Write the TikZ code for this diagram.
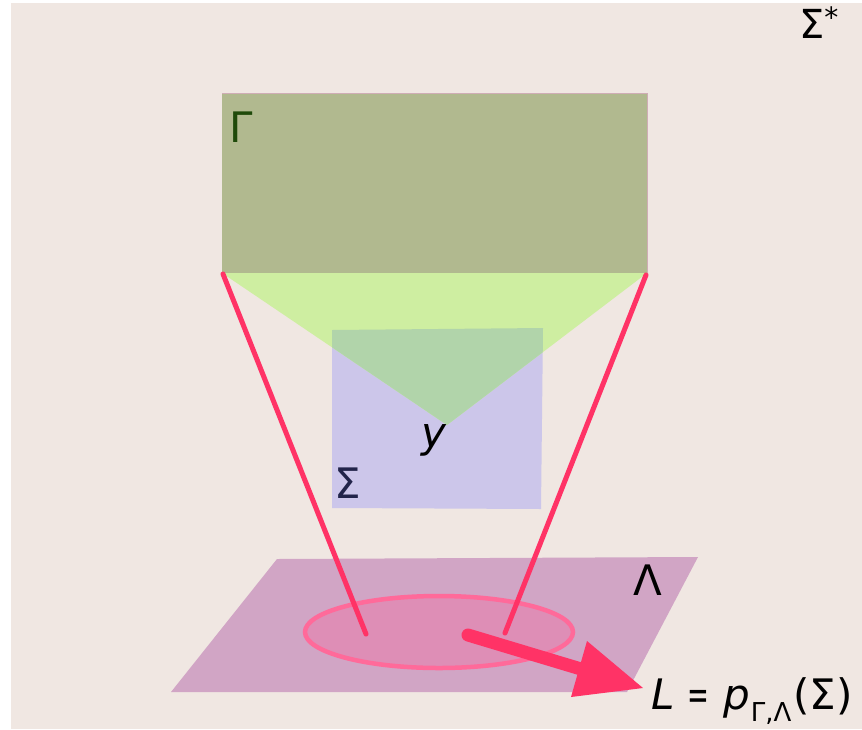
\documentclass[tikz,border=0pt]{standalone}
\usepackage{fontspec}
\usepackage{graphicx}
\setmainfont{DejaVu Sans}
\definecolor{bgc}{HTML}{F0E7E2}
\definecolor{gammac}{HTML}{B1B98F}
\definecolor{gammatxt}{HTML}{1F4A0A}
\definecolor{tric}{HTML}{CEEEA1}
\definecolor{sigc}{HTML}{CCC6EA}
\definecolor{overc}{HTML}{B1D4AA}
\definecolor{sigtxt}{HTML}{22244A}
\definecolor{lamc}{HTML}{D1A5C5}
\definecolor{ellfill}{HTML}{DE8EB6}
\definecolor{ellline}{HTML}{FF6A9A}
\definecolor{redc}{HTML}{FF3366}
\definecolor{bordc}{HTML}{CFADB5}
\tikzset{
  lbl/.style={inner sep=0pt, anchor=base west, font=\fontsize{42}{50}\selectfont},
  proj/.style={draw=redc, line width=5pt, line cap=round},
}
\begin{document}
\begin{tikzpicture}[x=1pt,y=-1pt]
\useasboundingbox (0,0) rectangle (862,729);
\fill[white] (0,0) rectangle (862,729);
\fill[bgc] (11,3) rectangle (862,729);
% Gamma
\fill[gammac] (222,93) rectangle (647,273);
\draw[bordc, line width=1pt] (222,93) -- (647,93) -- (647,273);
% Sigma rect
\fill[sigc] (332,330) -- (543,328) -- (541,509) -- (332,508) -- cycle;
% triangle
\fill[tric] (222,273) -- (647,273) -- (447,425) -- cycle;
\begin{scope}
  \clip (332,330) -- (543,328) -- (541,509) -- (332,508) -- cycle;
  \fill[overc] (222,273) -- (647,273) -- (447,425) -- cycle;
\end{scope}
% Lambda plane
\fill[lamc] (277,559) -- (698,557) -- (627,692) -- (171,692) -- cycle;
% ellipse
\filldraw[fill=ellfill, draw=ellline, line width=4.5pt] (439,632) ellipse [x radius=134pt, y radius=36pt];
% projection lines
\coordinate (g1) at (223,274);
\coordinate (g2) at (646,275);
\coordinate (e1) at (366,634);
\coordinate (e2) at (505,633);
\draw[proj] (g1) -- (e1);
\draw[proj] (g2) -- (e2);
% arrow
\coordinate (as) at (468,635);
\coordinate (ab) at (581,669);
\draw[redc, line width=13pt, line cap=round] (as) -- (ab);
\fill[redc] (587,641) -- (643,688) -- (571,697) -- cycle;
% labels
\node[lbl, font=\fontsize{40}{46}\selectfont] (sstar) at (799,38) {Σ\raisebox{11pt}{\fontsize{28}{32}\selectfont *}};
\node[lbl, text=gammatxt] (gam) at (229,142) {Γ};
\node[lbl, text=sigtxt] (sig) at (334,498) {Σ};
\node[lbl] (lam) at (633,595) {Λ};
\node[lbl] (yl) at (421,447) {\itshape y};
\node[lbl] (form) at (651,709) {\itshape L\upshape{} \scalebox{0.62}[1]{=} \itshape p\kern1pt\raisebox{-12pt}{\upshape\fontsize{26}{30}\selectfont Γ,Λ}\kern2pt\upshape(Σ)};
\end{tikzpicture}
\end{document}
